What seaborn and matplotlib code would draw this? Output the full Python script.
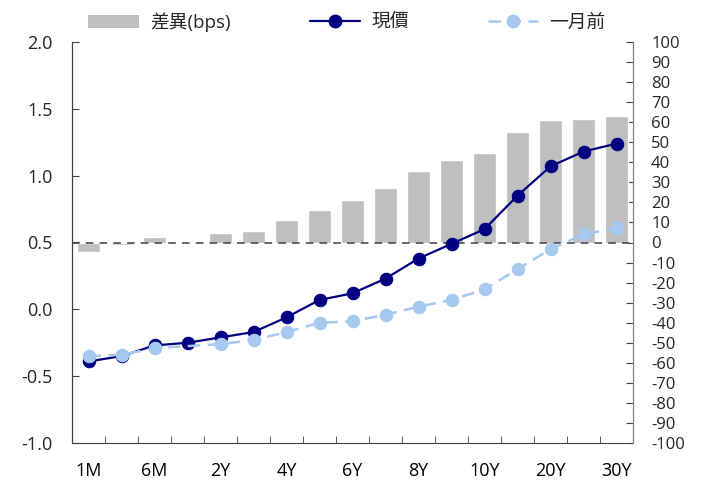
import matplotlib
matplotlib.use("Agg")
import matplotlib.pyplot as plt
from matplotlib.lines import Line2D
from matplotlib.patches import Patch
from matplotlib.ticker import FixedLocator, MultipleLocator, FormatStrFormatter
import numpy as np
import pandas as pd
import seaborn as sns

# Tenors of the yield curve
tenors = ["1M", "3M", "6M", "1Y", "2Y", "3Y", "4Y", "5Y", "6Y", "7Y",
          "8Y", "9Y", "10Y", "15Y", "20Y", "25Y", "30Y"]
# Current yields (%)
current = [-0.39, -0.35, -0.27, -0.25, -0.21, -0.17, -0.06, 0.07, 0.12, 0.23,
           0.38, 0.49, 0.60, 0.85, 1.07, 1.18, 1.24]
# Yields one month ago (%); no quote for 1Y
month_ago = [-0.35, -0.34, -0.29, np.nan, -0.26, -0.23, -0.17, -0.10, -0.09, -0.04,
             0.02, 0.07, 0.15, 0.30, 0.45, 0.56, 0.61]
# Change over the month (bps)
diff_bps = [-4.5, -1.0, 2.9, np.nan, 4.9, 5.9, 11.2, 16.2, 21.2, 27.3,
            35.8, 41.1, 44.8, 55.3, 61.1, 61.6, 63.2]
label_tenors = ["1M", "6M", "2Y", "4Y", "6Y", "8Y", "10Y", "20Y", "30Y"]

sns.set_style("ticks")
plt.rcParams["font.family"] = ["Open Sans", "Noto Sans CJK TC", "DejaVu Sans"]
plt.rcParams["axes.unicode_minus"] = False

NAVY = "#000080"
LIGHT = "#a7c9ef"
GREY = "#bfbfbf"

df = pd.DataFrame({"tenor": tenors, "pos": np.arange(len(tenors)),
                   "current": current, "month_ago": month_ago,
                   "diff": diff_bps})

fig = plt.figure(figsize=(7.04, 4.84), dpi=100)
ax_bar = fig.add_axes([72 / 704, 41 / 484, 561 / 704, 401 / 484])
ax = ax_bar.twinx()

# Bars: change in bps on the right-hand scale
sns.barplot(data=df, x="tenor", y="diff", order=tenors, color=GREY,
            width=0.69, saturation=1, ax=ax_bar, zorder=1)
ax_bar.axhline(0, color="#404040", lw=1.1, ls=(0, (5, 4)), zorder=2)
ax_bar.set_ylim(-100, 100)
ax_bar.yaxis.set_major_locator(MultipleLocator(10))
ax_bar.yaxis.tick_right()
ax_bar.yaxis.set_label_position("right")

# Lines: yield curves on the left-hand scale (gaps are bridged)
sns.lineplot(data=df, x="pos", y="current", color=NAVY, lw=1.6,
             marker="o", markersize=9, markeredgecolor=NAVY,
             ax=ax, sort=False, zorder=3)
sns.lineplot(data=df, x="pos", y="month_ago", color=LIGHT, lw=1.8,
             linestyle=(0, (5, 3)), marker="o", markersize=9,
             markeredgecolor=LIGHT, ax=ax, sort=False, zorder=4)
ax.set_ylim(-1.0, 2.0)
ax.yaxis.set_major_locator(MultipleLocator(0.5))
ax.yaxis.tick_left()
ax.yaxis.set_label_position("left")
ax.yaxis.set_major_formatter(FormatStrFormatter("%.1f"))

ax.set_xlim(-0.5, len(tenors) - 0.5)
ax_bar.set_xlim(-0.5, len(tenors) - 0.5)

# x axis: labels on every other tenor, tick marks at category borders
label_pos = [tenors.index(t) for t in label_tenors]
ax_bar.xaxis.set_major_locator(FixedLocator(label_pos))
ax_bar.set_xticklabels(label_tenors)
ax_bar.xaxis.set_minor_locator(FixedLocator(np.arange(-0.5, len(tenors), 1.0)))
ax_bar.tick_params(axis="x", which="major", length=0, pad=14, labelsize=13,
                   colors="#000000")
ax_bar.tick_params(axis="x", which="minor", length=5, direction="in",
                   color="#404040")

for a in (ax, ax_bar):
    a.set_xlabel("")
    a.set_ylabel("")
    a.spines["top"].set_visible(False)
    a.grid(False)

ax_bar.spines["right"].set_color("#808080")
ax_bar.spines["left"].set_color("#404040")
ax_bar.spines["bottom"].set_color("#404040")
ax.spines["right"].set_color("#808080")
ax.spines["left"].set_color("#404040")
ax.spines["bottom"].set_visible(False)

ax.tick_params(axis="y", direction="in", length=5, pad=14, labelsize=13,
               color="#404040")
ax_bar.tick_params(axis="y", direction="in", length=5, pad=13, labelsize=12,
                   color="#404040")
ax.tick_params(axis="x", which="both", length=0, labelbottom=False)

handles = [
    Patch(facecolor=GREY, edgecolor="none"),
    Line2D([], [], color=NAVY, lw=1.6, marker="o", markersize=9),
    Line2D([], [], color=LIGHT, lw=1.8, ls=(0, (5, 3)), marker="o", markersize=9),
]
fig.legend(handles, ["差異(bps)", "現價", "一月前"], ncol=3,
           loc="center", bbox_to_anchor=(347 / 704, 1 - 22 / 484),
           frameon=False, fontsize=13.5, handlelength=2.7, handletextpad=0.6,
           columnspacing=4.2)

fig.savefig("out.png", dpi=100)
